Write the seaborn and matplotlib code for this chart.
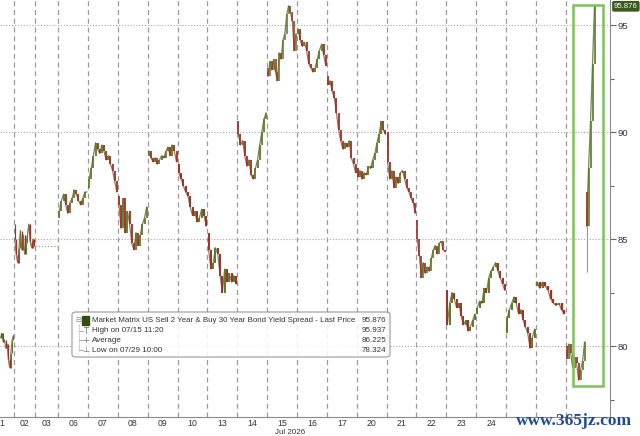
import numpy as np
import pandas as pd
import matplotlib
matplotlib.use('Agg')
import matplotlib.pyplot as plt
import seaborn as sns
from matplotlib.patches import Rectangle, FancyBboxPatch
from matplotlib.transforms import blended_transform_factory

# one list per session: first value is the session open, the rest are bar closes
jul01 = [80.6, 80.4, 80.6, 80.2, 80.3, 79.9, 80.1, 79.4, 79.0, 79.7, 80.3, 80.5]
jul02 = [85.7, 85.0, 84.3, 83.9, 84.6, 85.4, 84.5, 85.2, 84.3, 84.8, 85.2, 85.7, 84.9, 84.6, 85.0, 84.7]
jul03 = []  # no bars, price carried over
jul06 = [86.0, 86.3, 86.8, 87.1, 86.6, 86.2, 86.7, 86.9, 87.3, 87.1, 86.8, 86.6, 86.9, 87.2, 87.2]
jul07 = [87.4, 87.8, 88.3, 88.9, 89.5, 89.2, 89.0, 89.4, 89.1, 88.7, 88.9, 88.5, 88.2, 87.7, 87.2]
jul08 = [87.0, 86.6, 85.5, 86.9, 85.3, 86.3, 85.7, 84.8, 84.5, 85.3, 84.7, 85.2, 85.7, 86.0, 86.5]
jul09 = [88.9, 89.1, 88.8, 88.6, 88.8, 88.5, 88.7, 88.9, 88.8, 89.1, 89.3, 88.9, 89.4, 89.1, 88.6]
jul10 = [88.5, 88.1, 87.8, 87.5, 87.2, 87.0, 86.5, 86.1, 86.3, 85.8, 86.0, 86.4, 86.1, 85.6]
jul13 = [85.3, 84.5, 83.6, 83.9, 84.6, 84.3, 83.3, 82.5, 83.6, 83.0, 83.4, 83.0, 83.3, 82.9]
jul14 = [90.5, 89.9, 89.4, 89.6, 88.9, 88.4, 88.7, 88.0, 87.8, 88.3, 88.7, 89.4, 90.0, 90.6, 90.9]
jul15 = [93.0, 92.6, 93.3, 92.9, 93.4, 92.8, 92.4, 93.7, 93.4, 94.3, 94.6, 95.5, 95.9, 95.6, 95.2, 93.8, 94.6]
jul16 = [94.6, 94.8, 94.3, 94.0, 94.2, 93.8, 93.2, 93.0, 92.8, 93.0, 93.4, 93.8, 94.1, 93.6, 93.1]
jul17 = [92.6, 92.2, 92.4, 91.9, 91.6, 90.9, 90.1, 89.6, 89.2, 89.5, 89.3, 89.6, 88.8, 88.5, 88.1]
jul20 = [88.3, 87.9, 88.2, 87.8, 88.1, 88.0, 88.4, 88.3, 88.7, 89.0, 89.5, 89.9, 90.5, 90.1, 89.9]
jul21 = [90.0, 88.6, 87.8, 88.2, 87.4, 87.9, 87.6, 88.1, 88.2, 87.8, 87.4, 87.2, 86.9, 86.7, 86.2]
jul22 = [85.9, 85.0, 84.2, 83.2, 83.9, 83.4, 83.7, 83.5, 84.1, 84.5, 84.7, 84.3, 84.8, 84.9, 84.5, 84.4]
jul23 = [82.6, 81.0, 82.0, 82.5, 82.2, 81.8, 82.0, 81.4, 81.0, 81.2, 80.7, 80.9, 81.2, 81.5]
jul24 = [81.5, 81.8, 82.1, 82.0, 82.7, 82.5, 83.2, 83.5, 83.7, 83.9, 83.5, 83.2, 82.9, 82.6]
jul27 = [80.6, 81.3, 81.7, 82.0, 82.3, 82.0, 81.5, 81.7, 81.2, 80.9, 80.6, 79.9, 80.4, 80.8]
jul28 = [82.8, 83.0, 82.7, 83.0, 82.8, 82.6, 82.2, 82.0, 81.9, 82.0, 81.7, 81.5]
jul29 = [80.0, 79.4, 80.1, 79.7, 79.0, 79.5, 79.2, 78.4, 78.9, 79.3, 80.2, 85.6, 88.3, 90.5, 93.2, 95.876]
jul29_gap = (10, 87.2)      # bar that opened after the jump, and its open
jul29_gap_low = 83.45

day_labels = ['1', '02', '03', '06', '07', '08', '09', '10', '13', '14', '15',
              '16', '17', '20', '21', '22', '23', '24', '27', '28', '29']
sessions = [jul01, jul02, jul03, jul06, jul07, jul08, jul09, jul10, jul13, jul14, jul15,
            jul16, jul17, jul20, jul21, jul22, jul23, jul24, jul27, jul28, jul29]
hidden_labels = ['27', '28', '29']   # covered by the watermark

legend_title = 'Market Matrix US Sell 2 Year & Buy 30 Year Bond Yield Spread - Last Price'
stats_labels = [legend_title, 'High on 07/15 11:20', 'Average', 'Low on 07/29 10:00']
stats_values = ['95.876', '95.937', '86.225', '78.324']
stat_high = 95.937
stat_low = 78.324
last_price = 95.876

# session widths in days (first one is cut by the left edge, 03 was a half day)
session_len = [0.47, 0.70, 0.77] + [0.995] * 18

UP = '#5b7d27'
DOWN = '#a32e27'

rows = []
path = []
start = 0.0
edges = []
centers = []
for label, vals, width in zip(day_labels, sessions, session_len):
    n = len(vals) - 1
    seg = label
    for i in range(max(n, 0)):
        o, c = vals[i], vals[i + 1]
        x = start + (i + 0.5) * width / n
        if label == '29' and i == jul29_gap[0]:
            o = jul29_gap[1]
            seg = label + 'b'
        rows.append(dict(day=label, x=x, open=o, close=c, step=width / n))
        path.append(dict(seg=seg, x=x, price=c))
    centers.append(start + width / 2)
    start += width
    edges.append(start)
centers[0] = 0.07   # cut session: its label sits at the left edge
bars = pd.DataFrame(rows)
bars['up'] = bars['close'] >= bars['open']
path = pd.DataFrame(path)

sns.set_theme(style='white')
plt.rcParams['font.family'] = ['Liberation Sans', 'DejaVu Sans']

W, H = 640, 436
fig = plt.figure(figsize=(6.4, 4.36), dpi=100)
ax = fig.add_axes([0, 1 - 417 / H, 610 / W, 417 / H])
ax.set_xlim(0, 610 / 30)
ax.set_ylim(76.69, 96.17)

# grid
for e in edges[:-1]:
    ax.axvline(e, color='#9a9a9a', lw=0.9, ls=(0, (4, 3)), zorder=1)
for yv in [80, 85, 90, 95]:
    ax.axhline(yv, color='#a8a8a8', lw=0.8, ls=(0, (1, 1.6)), zorder=1)

# thin trace through the closes, then the candle bodies
sns.lineplot(data=path, x='x', y='price', units='seg', estimator=None, ax=ax,
             color='#6e6a48', lw=0.9, alpha=0.85, zorder=2)
for day, grp in bars.groupby('day', sort=False):
    lw = grp['step'].iloc[0] * 30 * 0.85 * 72 / 100
    cols = np.where(grp['up'], UP, DOWN)
    ax.vlines(grp['x'], grp[['open', 'close']].min(axis=1), grp[['open', 'close']].max(axis=1),
              colors=cols, lw=lw, zorder=3)
gap_bar = bars[(bars['day'] == '29')].iloc[jul29_gap[0]]
ax.vlines(gap_bar['x'], jul29_gap_low, gap_bar['open'], colors='#9a9a88', lw=0.8, zorder=2)

# carried price over the half-day session
i03 = day_labels.index('03')
flat = pd.DataFrame({'x': [edges[i03 - 1], edges[i03]], 'y': [jul02[-1], jul02[-1]]})
sns.lineplot(data=flat, x='x', y='y', ax=ax, color='#b09a80', lw=0.9, ls=(0, (1, 1.5)),
             zorder=2)
ax.set_xlabel('')
ax.set_ylabel('')

# highlight box around the last session
i29 = day_labels.index('29')
x29 = edges[i29 - 1]
ax.add_patch(Rectangle((x29 + 0.25, stat_low - 0.18), 0.98, last_price + 0.07 - stat_low + 0.18,
                       fill=False, ec='#7cc35a', lw=1.8, zorder=5))

# axes styling
for s in ['left', 'top']:
    ax.spines[s].set_visible(False)
for s in ['right', 'bottom']:
    ax.spines[s].set_color('#8a8a8a')
    ax.spines[s].set_linewidth(0.8)
ax.yaxis.tick_right()
ax.set_yticks([80, 85, 90, 95])
ax.set_yticks([77.5, 82.5, 87.5, 92.5], minor=True)
ax.tick_params(axis='y', which='major', direction='out', length=4, width=0.8, color='#666666',
               labelsize=6.8, labelcolor='#333333', pad=1.5, right=True)
ax.tick_params(axis='y', which='minor', direction='out', length=3, width=0.8, color='#666666',
               right=True)
shown = [(c, l) for c, l in zip(centers, day_labels) if l not in hidden_labels]
ax.set_xticks([c for c, _ in shown])
ax.set_xticklabels([l for _, l in shown])
ax.tick_params(axis='x', length=0, labelsize=6.3, labelcolor='#333333', pad=1.5)

fig.text(290 / W, 0.2 / H, 'Jul 2026', ha='center', va='bottom', fontsize=5.8,
         color='#333333')

# last price tag
trans = blended_transform_factory(ax.transAxes, ax.transData)
ax.text(1.0 + 4 / 610, last_price, stats_values[0], transform=trans, ha='left', va='center',
        fontsize=5.6, color='white', clip_on=False,
        bbox=dict(boxstyle='round,pad=0.15', fc='#3d5a1e', ec='#3d5a1e'))

# legend panel
fig.patches.append(FancyBboxPatch((72 / W, 1 - 357 / H), 318 / W, 45 / H,
                                  boxstyle='round,pad=0,rounding_size=0.006',
                                  transform=fig.transFigure, fc='white', ec='#8c8c8c',
                                  lw=0.8, alpha=0.88, zorder=6))
fig.patches.append(Rectangle((82 / W, 1 - 325 / H), 7 / W, 9 / H, transform=fig.transFigure,
                             fc='#2f4f14', ec='#2f4f14', zorder=7))
fig.lines.append(plt.Line2D([79 / W, 79 / W], [1 - 324 / H, 1 - 351 / H], transform=fig.transFigure,
                            color='#9a9a9a', lw=0.6, ls=(0, (1, 1)), zorder=7))
fig.text(78 / W, 1 - 320 / H, '⊟', fontsize=5, color='#888888', ha='center', va='center',
         family='DejaVu Sans', zorder=7)

# legend font: a narrow face, sized so 'High on 07/15 11:20' is about 71 px wide
legend_family = ['Liberation Sans Narrow', 'Liberation Sans', 'DejaVu Sans']
renderer = fig.canvas.get_renderer()
probe = fig.text(0, 0, stats_labels[1], fontsize=7, family=legend_family)
lfs = 7 * 71 / probe.get_window_extent(renderer).width
probe.remove()

row_y = [321, 331, 340, 350]
icons = ['', 'T', '+', '⊥']
for yy, lab, val, ic in zip(row_y, stats_labels, stats_values, icons):
    if ic:
        fig.lines.append(plt.Line2D([79 / W, 83 / W], [1 - yy / H, 1 - yy / H],
                                    transform=fig.transFigure, color='#9a9a9a', lw=0.6,
                                    zorder=7))
        fig.text(86 / W, 1 - yy / H, ic, fontsize=6, color='#777777', ha='center',
                 va='center', family='DejaVu Sans', zorder=7)
    t = fig.text(92 / W, 1 - yy / H, lab, fontsize=lfs, color='#333333', ha='left',
                 va='center', family=legend_family, zorder=7)
    v = fig.text(386 / W, 1 - yy / H, val, fontsize=lfs, color='#333333', ha='right',
                 va='center', family=legend_family, zorder=7)
    fs = lfs
    while t.get_window_extent(renderer).x1 > v.get_window_extent(renderer).x0 - 3 and fs > 4:
        fs -= 0.1
        t.set_fontsize(fs)

# watermark
fig.text(574 / W, 1 - 421 / H, 'www.365jz.com', fontsize=12.5, color='#1f4a95',
         family='Liberation Serif', weight='bold', ha='center', va='center', zorder=8)

fig.savefig('out.png', dpi=100)
